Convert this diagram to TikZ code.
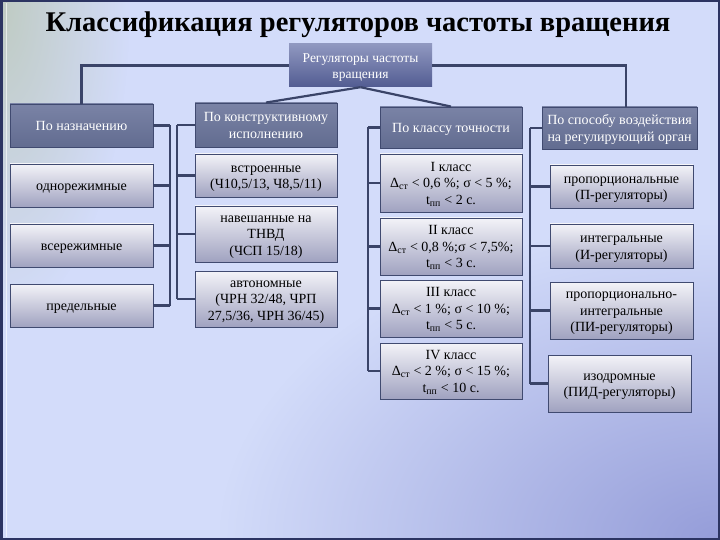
\documentclass[tikz,border=0pt]{standalone}
\usepackage{fontspec}
\setmainfont{Liberation Serif}
\usetikzlibrary{fadings,calc}
\definecolor{bgc}{HTML}{D3DCFA}
\definecolor{greyg}{HTML}{BFCBC2}
\definecolor{purp}{HTML}{959DD9}
\definecolor{navy}{HTML}{2C3462}
\definecolor{linec}{HTML}{3A4468}
\definecolor{dtop}{HTML}{7A83A6}
\definecolor{dbot}{HTML}{626C90}
\definecolor{rtop}{HTML}{9098C0}
\definecolor{rbot}{HTML}{525C92}
\definecolor{ltop}{HTML}{F3F3F8}
\definecolor{lmid}{HTML}{D4D5E3}
\definecolor{lbot}{HTML}{A0A2C0}
\definecolor{bordc}{HTML}{404A70}
\tikzfading[name=radfade, inner color=transparent!0, outer color=transparent!100]
\newcommand{\tb}[1]{\raisebox{-1.5pt}[\height][\depth]{\begin{tabular}{@{}c@{}}#1\end{tabular}}}
\newcommand{\bodyfont}{\fontsize{14}{16.5}\selectfont\setbox\strutbox\hbox{\vrule height 11.55pt depth 4.95pt width 0pt}}
\newcommand{\rootfont}{\fontsize{13.5}{16.5}\selectfont\setbox\strutbox\hbox{\vrule height 11.55pt depth 4.95pt width 0pt}}
\begin{document}
\begin{tikzpicture}[x=1pt,y=-1pt,
  txt/.style={font=\bodyfont, inner sep=1pt},
  dbox/.style={txt, draw=bordc, line width=0.9pt, top color=dtop, bottom color=dbot, text=white, minimum width=#1, minimum height=43pt},
  dbox/.default=142pt,
  rootbox/.style={inner sep=1pt, font=\rootfont, draw=none, top color=rtop, bottom color=rbot, text=white, minimum width=143pt, minimum height=43pt},
  lbox/.style={txt, draw=bordc, line width=0.9pt, top color=ltop, middle color=lmid, bottom color=lbot, text=black, minimum width=143pt, minimum height=#1},
  lbox/.default=43pt,
  conn/.style={draw=linec, line width=2.2pt}
]
\useasboundingbox (0,0) rectangle (720,540);
\fill[bgc] (0,0) rectangle (720,540);
\begin{scope}
\clip (0,0) rectangle (720,540);
\fill[color=greyg, path fading=radfade] (0,0) ellipse[x radius=130pt, y radius=320pt];
\fill[color=purp, path fading=radfade] (720,540) ellipse[x radius=500pt, y radius=320pt];
\end{scope}
\draw[white, opacity=0.6, line width=0.8pt] (6,3) -- (6,537);
\draw[navy, line width=2.5pt] (1.25,1.25) rectangle (718.75,538.75);

\node[font=\fontsize{28.5}{30}\selectfont\bfseries] (title) at (358,25) {Классификация регуляторов частоты вращения};

\node[rootbox] (root) at (360.5,65.5) {\tb{Регуляторы частоты\\вращения}};

% left column
\node[dbox=143pt] (nazn) at (81.5,125.5) {\tb{По назначению}};
\node[lbox] (odno) at (81.5,185.5) {\tb{однорежимные}};
\node[lbox] (vse) at (81.5,245.5) {\tb{всережимные}};
\node[lbox] (pred) at (81.5,305.5) {\tb{предельные}};

% constructive column
\node[dbox, minimum height=44pt] (konstr) at (266,125) {\tb{По конструктивному\\исполнению}};
\node[lbox, minimum width=142pt] (vstr) at (266,175.5) {\tb{встроенные\\(Ч10,5/13, Ч8,5/11)}};
\node[lbox=56pt, minimum width=142pt] (navesh) at (266,234) {\tb{навешанные на\\ТНВД\\(ЧСП 15/18)}};
\node[lbox=56pt, minimum width=142pt] (avt) at (266,299) {\tb{автономные\\(ЧРН 32/48, ЧРП\\27,5/36, ЧРН 36/45)}};

% accuracy column
\node[dbox, minimum height=41pt] (klass) at (451,127.5) {\tb{По классу точности}};
\node[lbox=58pt, minimum width=142pt] (k1) at (451,183) {\tb{I класс\\Δ\textsubscript{ст} < 0,6 \%; σ < 5 \%;\\t\textsubscript{пп} < 2 с.}};
\node[lbox=57pt, minimum width=142pt] (k2) at (451,246.5) {\tb{II класс\\Δ\textsubscript{ст} < 0,8 \%;σ < 7,5\%;\\t\textsubscript{пп} < 3 с.}};
\node[lbox=57pt, minimum width=142pt] (k3) at (451,308.5) {\tb{III класс\\Δ\textsubscript{ст} < 1 \%; σ < 10 \%;\\t\textsubscript{пп} < 5 с.}};
\node[lbox=56pt, minimum width=142pt] (k4) at (451,371) {\tb{IV класс\\Δ\textsubscript{ст} < 2 \%; σ < 15 \%;\\t\textsubscript{пп} < 10 с.}};

% action column
\node[dbox=155pt, minimum height=42pt] (sposob) at (619.5,128) {\tb{По способу воздействия\\на регулирующий орган}};
\node[lbox] (prop) at (621.5,186.5) {\tb{пропорциональные\\(П-регуляторы)}};
\node[lbox=44pt] (integ) at (621.5,246) {\tb{интегральные\\(И-регуляторы)}};
\node[lbox=57pt] (pi) at (621.5,310.5) {\tb{пропорционально-\\интегральные\\(ПИ-регуляторы)}};
\node[lbox=57pt] (izod) at (619.5,383.5) {\tb{изодромные\\(ПИД-регуляторы)}};

% bus coordinates
\coordinate (bl) at (170,0);
\coordinate (bm) at (177,0);
\coordinate (bk) at (368,0);
\coordinate (bs) at (530,0);
\coordinate (tr) at (626,0);

% top connections
\draw[conn] (root.west) -| (nazn.north);
\draw[conn] (root.east) -| (sposob.north -| tr);
\draw[conn] (root.south) -- (konstr.north);
\draw[conn] (root.south) -- (klass.north);

% left bus
\draw[conn] (nazn.east -| bl) -- (pred.east -| bl);
\foreach \n in {nazn,odno,vse,pred} \draw[conn] (\n.east) -- (\n.east -| bl);
% constructive bus
\draw[conn] (konstr.west -| bm) -- (avt.west -| bm);
\foreach \n in {konstr,vstr,navesh,avt} \draw[conn] (\n.west) -- (\n.west -| bm);
% accuracy bus
\draw[conn] (klass.west -| bk) -- (k4.west -| bk);
\foreach \n in {klass,k1,k2,k3,k4} \draw[conn] (\n.west) -- (\n.west -| bk);
% action bus
\draw[conn] (sposob.west -| bs) -- (izod.west -| bs);
\foreach \n in {sposob,prop,integ,pi,izod} \draw[conn] (\n.west) -- (\n.west -| bs);
\end{tikzpicture}
\end{document}
